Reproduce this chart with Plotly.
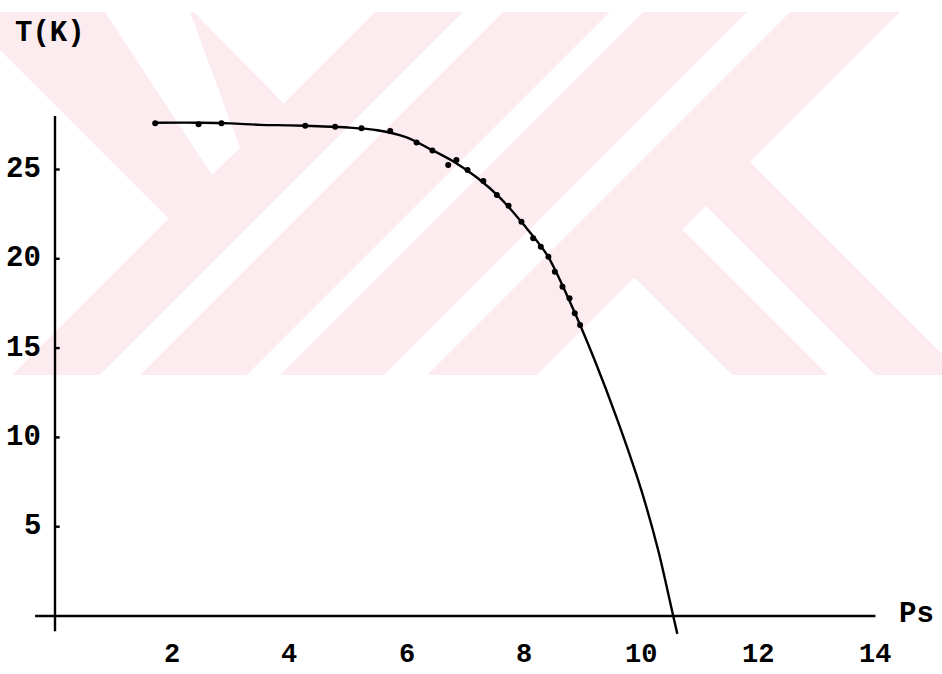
import plotly.graph_objects as go

# ---- data ----
ps_points = [1.71, 2.45, 2.84, 4.27, 4.78, 5.23, 5.72, 6.17, 6.44, 6.71, 6.85, 7.04,
             7.31, 7.54, 7.74, 7.96, 8.16, 8.29, 8.42, 8.53, 8.66, 8.78, 8.87, 8.96]
t_points = [27.59, 27.53, 27.59, 27.45, 27.40, 27.31, 27.16, 26.51, 26.07, 25.25, 25.53, 24.97,
            24.36, 23.57, 22.97, 22.08, 21.15, 20.68, 20.12, 19.28, 18.44, 17.79, 16.95, 16.29]

ps_fit = [1.70, 2.5, 3.0, 3.5, 4.0, 4.5, 5.0, 5.5, 6.0, 6.4, 6.8, 7.2, 7.6, 8.0,
          8.4, 8.8, 9.2, 9.6, 10.0, 10.3, 10.55, 10.62]
t_fit = [27.62, 27.62, 27.58, 27.50, 27.47, 27.42, 27.35, 27.20, 26.80, 26.15, 25.45, 24.55,
         23.40, 21.90, 20.20, 17.50, 14.40, 10.95, 7.10, 3.60, 0.0, -1.00]

x_ticks = [2, 4, 6, 8, 10, 12, 14]
y_ticks = [5, 10, 15, 20, 25]
x_title = "Ps"
y_title = "T(K)"

# ---- layout constants ----
W, H = 942, 674
X_RANGE = [-0.9386, 15.1365]
Y_RANGE = [-3.2475, 34.49]
FONT = dict(family="Liberation Mono, Courier New, monospace", size=29, color="black")
FONT_X = dict(family="Liberation Mono, Courier New, monospace", size=27, color="black")
PINK = "#fdecef"


def path(pts):
    s = ""
    for i, (px, py) in enumerate(pts):
        s += ("M" if i == 0 else "L") + f"{px / W:.5f},{1 - py / H:.5f} "
    return s + "Z"


# faint watermark (pink field with white chevron gaps), in page pixels
wm_shapes = [dict(type="path", path=path([(0, 12), (942, 12), (942, 375), (0, 375)]),
                  fillcolor=PINK, line_width=0)]
white_polys = [
    [(0, 50), (168.5, 218.5), (12, 375), (0, 375)],
    [(105, 12), (190, 12), (240, 148), (212, 175)],
    [(194, 12), (375, 12), (283.5, 103.5)],
    [(463, 12), (503, 12), (140, 375), (100, 375)],
    [(610, 12), (643, 12), (280, 375), (247, 375)],
    [(747, 12), (790, 12), (427, 375), (384, 375)],
    [(900, 12), (942, 12), (942, 354), (750, 162)],
    [(682.5, 229.5), (706, 206), (875, 375), (828, 375)],
    [(634.5, 277.5), (732, 375), (537, 375)],
]
for poly in white_polys:
    wm_shapes.append(dict(type="path", path=path(poly), fillcolor="white", line_width=0))
for s in wm_shapes:
    s.update(xref="paper", yref="paper", layer="below")

fig = go.Figure()

fig.add_trace(go.Scatter(x=ps_fit, y=t_fit, mode="lines",
                         line=dict(color="black", width=2.4, shape="spline", smoothing=0.8),
                         hoverinfo="skip", showlegend=False))
fig.add_trace(go.Scatter(x=ps_points, y=t_points, mode="markers",
                         marker=dict(color="black", size=6),
                         showlegend=False))

axis_shapes = [
    dict(type="line", x0=-0.34, x1=14.0, y0=0, y1=0),
    dict(type="line", x0=0, x1=0, y0=-0.85, y1=28.0),
]
for v in y_ticks:
    axis_shapes.append(dict(type="line", x0=0, x1=0.08, y0=v, y1=v))
for s in axis_shapes:
    s.update(xref="x", yref="y", line=dict(color="black", width=2.4), layer="above")

annotations = []
for v in x_ticks:
    annotations.append(dict(x=v, y=-2.2, xref="x", yref="y", text=f"<b>{v}</b>", showarrow=False,
                            xanchor="center", yanchor="middle", font=FONT_X))
for v in y_ticks:
    annotations.append(dict(x=-0.2, y=v, xref="x", yref="y", text=f"<b>{v}</b>", showarrow=False,
                            xanchor="right", yanchor="middle", font=FONT))
annotations.append(dict(x=-0.72, y=32.64, xref="x", yref="y", text=f"<b>{y_title}</b>",
                        showarrow=False, xanchor="left", yanchor="middle", font=FONT))
annotations.append(dict(x=14.37, y=0.1, xref="x", yref="y", text=f"<b>{x_title}</b>",
                        showarrow=False, xanchor="left", yanchor="middle", font=FONT))

fig.update_layout(
    width=W, height=H,
    margin=dict(l=0, r=0, t=0, b=0, pad=0),
    paper_bgcolor="white", plot_bgcolor="rgba(0,0,0,0)",
    xaxis=dict(range=X_RANGE, visible=False, fixedrange=True),
    yaxis=dict(range=Y_RANGE, visible=False, fixedrange=True),
    shapes=wm_shapes + axis_shapes,
    annotations=annotations,
    showlegend=False,
)

fig.write_html(
    "out.html",
    config={"displayModeBar": False},
    post_script="document.body.style.margin='0';document.body.style.overflow='hidden';",
)
